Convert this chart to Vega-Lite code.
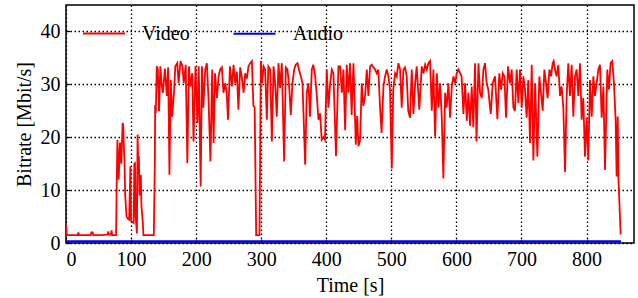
{
  "$schema": "https://vega.github.io/schema/vega-lite/v6.json",
  "autosize": {"type": "none"},
  "padding": {"left": 66, "top": 5, "right": 4, "bottom": 55},
  "width": 568,
  "height": 238,
  "config": {
    "font": "Liberation Serif",
    "view": {"stroke": "black", "strokeWidth": 1.5},
    "style": {"guide-label": {"font": "Liberation Serif", "fontSize": 20, "fill": "black"}, "guide-title": {"font": "Liberation Serif", "fontSize": 20, "fill": "black", "fontWeight": "normal"}},
    "axis": {
      "labelFont": "Liberation Serif", "titleFont": "Liberation Serif",
      "labelFontSize": 20, "titleFontSize": 20, "titleFontWeight": "normal",
      "labelColor": "black", "titleColor": "black",
      "grid": true, "gridColor": "black", "gridDash": [1.5, 2.5], "gridWidth": 1.3, "gridOpacity": 1,
      "domain": false, "tickColor": "black", "tickSize": -4, "tickWidth": 1.2, "labelPadding": 10
    },
    "legend": {"labelFont": "Liberation Serif", "labelFontSize": 20, "labelColor": "black"}
  },
  "data": {"values": [
    {"t":0,"v":3.5,"s":"Video"},{"t":1,"v":1.5,"s":"Video"},{"t":10,"v":1.5,"s":"Video"},{"t":18,"v":1.5,"s":"Video"},{"t":19,"v":2.0,"s":"Video"},{"t":20,"v":1.5,"s":"Video"},{"t":38,"v":1.5,"s":"Video"},{"t":39,"v":2.0,"s":"Video"},{"t":41,"v":2.0,"s":"Video"},{"t":42,"v":1.5,"s":"Video"},{"t":55,"v":1.5,"s":"Video"},{"t":64,"v":1.6,"s":"Video"},{"t":65,"v":2.2,"s":"Video"},{"t":66,"v":1.6,"s":"Video"},{"t":69,"v":1.6,"s":"Video"},{"t":70,"v":2.4,"s":"Video"},{"t":71,"v":1.5,"s":"Video"},{"t":77,"v":1.5,"s":"Video"},
    {"t":78,"v":12,"s":"Video"},{"t":79,"v":19.5,"s":"Video"},{"t":80,"v":16,"s":"Video"},{"t":81,"v":12,"s":"Video"},{"t":83,"v":19,"s":"Video"},{"t":85,"v":15,"s":"Video"},{"t":87,"v":22.7,"s":"Video"},{"t":88,"v":22.3,"s":"Video"},{"t":89,"v":18,"s":"Video"},{"t":90,"v":15,"s":"Video"},{"t":91,"v":9,"s":"Video"},{"t":93,"v":5,"s":"Video"},{"t":95,"v":4.6,"s":"Video"},{"t":97,"v":4.4,"s":"Video"},{"t":99,"v":14.5,"s":"Video"},{"t":100,"v":4.2,"s":"Video"},{"t":102,"v":4,"s":"Video"},{"t":104,"v":3.8,"s":"Video"},{"t":105,"v":15,"s":"Video"},{"t":106,"v":15.1,"s":"Video"},{"t":107,"v":5,"s":"Video"},{"t":108,"v":3.5,"s":"Video"},{"t":109,"v":1.8,"s":"Video"},{"t":110,"v":20.5,"s":"Video"},{"t":111,"v":15,"s":"Video"},{"t":112,"v":16.4,"s":"Video"},{"t":113,"v":9,"s":"Video"},{"t":115,"v":12.9,"s":"Video"},{"t":116,"v":6.9,"s":"Video"},{"t":118,"v":4,"s":"Video"},{"t":119,"v":1.5,"s":"Video"},{"t":135,"v":1.5,"s":"Video"},
    {"t":136.5,"v":15,"s":"Video"},{"t":137,"v":26.1,"s":"Video"},{"t":138,"v":24.5,"s":"Video"},{"t":139.5,"v":33.4,"s":"Video"},{"t":141,"v":33,"s":"Video"},{"t":143,"v":24.9,"s":"Video"},{"t":145,"v":33.4,"s":"Video"},{"t":147,"v":30,"s":"Video"},{"t":149,"v":28.4,"s":"Video"},{"t":152,"v":33,"s":"Video"},{"t":155,"v":27.8,"s":"Video"},{"t":157,"v":33.2,"s":"Video"},{"t":159,"v":12.9,"s":"Video"},{"t":161,"v":30.8,"s":"Video"},{"t":163,"v":23.9,"s":"Video"},{"t":166,"v":28.4,"s":"Video"},{"t":168,"v":33.4,"s":"Video"},{"t":171,"v":34,"s":"Video"},{"t":173,"v":30.2,"s":"Video"},{"t":176,"v":34.4,"s":"Video"},{"t":179,"v":33.4,"s":"Video"},{"t":181,"v":30.2,"s":"Video"},{"t":184,"v":33.7,"s":"Video"},{"t":186.5,"v":15.1,"s":"Video"},{"t":189,"v":33.4,"s":"Video"},{"t":191,"v":29.6,"s":"Video"},{"t":194,"v":32.1,"s":"Video"},{"t":196,"v":19.2,"s":"Video"},{"t":199,"v":33.4,"s":"Video"},{"t":202,"v":22.7,"s":"Video"},{"t":204,"v":33.4,"s":"Video"},{"t":207,"v":10.7,"s":"Video"},{"t":209,"v":33.4,"s":"Video"},{"t":211,"v":25.6,"s":"Video"},{"t":214,"v":32.8,"s":"Video"},{"t":216.5,"v":34,"s":"Video"},{"t":219,"v":27.4,"s":"Video"},{"t":222,"v":15.4,"s":"Video"},{"t":224.7,"v":32.8,"s":"Video"},{"t":226.8,"v":18.9,"s":"Video"},{"t":229,"v":32.1,"s":"Video"},{"t":232,"v":27.4,"s":"Video"},{"t":234.5,"v":31.5,"s":"Video"},{"t":237,"v":32.8,"s":"Video"},{"t":239.6,"v":33.2,"s":"Video"},{"t":242,"v":28.4,"s":"Video"},{"t":244.7,"v":30.2,"s":"Video"},{"t":247,"v":28.4,"s":"Video"},{"t":249,"v":23.3,"s":"Video"},{"t":252,"v":33.4,"s":"Video"},{"t":255,"v":29.6,"s":"Video"},{"t":257.5,"v":33.7,"s":"Video"},{"t":260,"v":30.2,"s":"Video"},{"t":262.6,"v":32.4,"s":"Video"},{"t":265,"v":25.2,"s":"Video"},{"t":267.7,"v":33.2,"s":"Video"},{"t":270,"v":31.5,"s":"Video"},{"t":273,"v":28.4,"s":"Video"},{"t":275.4,"v":32.1,"s":"Video"},{"t":278,"v":31.1,"s":"Video"},{"t":280.5,"v":33.4,"s":"Video"},{"t":283,"v":34,"s":"Video"},{"t":285.7,"v":34.4,"s":"Video"},{"t":288,"v":26,"s":"Video"},{"t":290,"v":25.6,"s":"Video"},{"t":292.3,"v":1.5,"s":"Video"},{"t":297.4,"v":1.5,"s":"Video"},
    {"t":299.5,"v":34.4,"s":"Video"},{"t":301.5,"v":30.2,"s":"Video"},{"t":303.6,"v":33.4,"s":"Video"},{"t":306,"v":32.8,"s":"Video"},{"t":308.7,"v":23.3,"s":"Video"},{"t":311,"v":33.4,"s":"Video"},{"t":313.8,"v":32.8,"s":"Video"},{"t":316.4,"v":19.2,"s":"Video"},{"t":319,"v":33.4,"s":"Video"},{"t":321.5,"v":30.2,"s":"Video"},{"t":324,"v":23.9,"s":"Video"},{"t":326.6,"v":34,"s":"Video"},{"t":329,"v":29.3,"s":"Video"},{"t":331.7,"v":34,"s":"Video"},{"t":335.3,"v":15.4,"s":"Video"},{"t":337.9,"v":33.2,"s":"Video"},{"t":340.4,"v":32.8,"s":"Video"},{"t":343,"v":29.6,"s":"Video"},{"t":345.5,"v":24.2,"s":"Video"},{"t":348,"v":30.2,"s":"Video"},{"t":350.7,"v":32.8,"s":"Video"},{"t":353,"v":33.7,"s":"Video"},{"t":355.8,"v":34,"s":"Video"},{"t":358,"v":32.8,"s":"Video"},{"t":361,"v":31.5,"s":"Video"},{"t":363.5,"v":30.2,"s":"Video"},{"t":367.6,"v":14.8,"s":"Video"},{"t":370,"v":28.4,"s":"Video"},{"t":372.7,"v":30.2,"s":"Video"},{"t":375,"v":23.9,"s":"Video"},{"t":377.8,"v":32.8,"s":"Video"},{"t":380,"v":33.7,"s":"Video"},{"t":383,"v":31.5,"s":"Video"},{"t":385.5,"v":27.8,"s":"Video"},{"t":388,"v":23.3,"s":"Video"},{"t":390.6,"v":24.5,"s":"Video"},{"t":393,"v":19.5,"s":"Video"},{"t":395.7,"v":20,"s":"Video"},{"t":398,"v":19.5,"s":"Video"},{"t":400.8,"v":32.8,"s":"Video"},{"t":403.4,"v":25.6,"s":"Video"},{"t":406,"v":30.2,"s":"Video"},{"t":408.5,"v":32.8,"s":"Video"},{"t":411,"v":32.1,"s":"Video"},{"t":415,"v":16.4,"s":"Video"},{"t":418.7,"v":33.4,"s":"Video"},{"t":421.3,"v":33.4,"s":"Video"},{"t":424,"v":28.4,"s":"Video"},{"t":426.4,"v":32.8,"s":"Video"},{"t":429,"v":21.3,"s":"Video"},{"t":431.5,"v":33.7,"s":"Video"},{"t":434,"v":28.4,"s":"Video"},{"t":436.7,"v":34,"s":"Video"},{"t":439,"v":24.2,"s":"Video"},{"t":441.8,"v":34,"s":"Video"},{"t":445.4,"v":18.6,"s":"Video"},{"t":447.5,"v":24,"s":"Video"},{"t":449.5,"v":18.3,"s":"Video"},{"t":452,"v":19.5,"s":"Video"},{"t":454.6,"v":30.2,"s":"Video"},{"t":457,"v":25.9,"s":"Video"},{"t":459.7,"v":27.8,"s":"Video"},{"t":462.3,"v":32.8,"s":"Video"},{"t":464.8,"v":27.8,"s":"Video"},{"t":467.4,"v":33.4,"s":"Video"},{"t":470,"v":33.7,"s":"Video"},{"t":472.5,"v":33.2,"s":"Video"},{"t":475,"v":32.8,"s":"Video"},{"t":477.6,"v":32.1,"s":"Video"},{"t":480,"v":32.8,"s":"Video"},{"t":482.7,"v":25.6,"s":"Video"},{"t":485,"v":20.8,"s":"Video"},{"t":487.9,"v":29.6,"s":"Video"},{"t":490.4,"v":31.5,"s":"Video"},{"t":493,"v":32.8,"s":"Video"},{"t":495.5,"v":31.5,"s":"Video"},{"t":498,"v":29,"s":"Video"},{"t":500.7,"v":14.1,"s":"Video"},{"t":503,"v":29,"s":"Video"},{"t":505.8,"v":32.1,"s":"Video"},{"t":508.3,"v":31.5,"s":"Video"},{"t":510.9,"v":34,"s":"Video"},{"t":513.5,"v":32.8,"s":"Video"},{"t":516,"v":25.6,"s":"Video"},{"t":518.6,"v":32.8,"s":"Video"},{"t":521,"v":33.2,"s":"Video"},{"t":523.7,"v":31.5,"s":"Video"},{"t":526,"v":25,"s":"Video"},{"t":528.8,"v":23.7,"s":"Video"},{"t":531.4,"v":32.8,"s":"Video"},{"t":534,"v":24.4,"s":"Video"},{"t":536.6,"v":30.2,"s":"Video"},{"t":539,"v":33.4,"s":"Video"},{"t":543,"v":25.2,"s":"Video"},{"t":546.8,"v":33.4,"s":"Video"},{"t":549.4,"v":32.1,"s":"Video"},{"t":552,"v":33.7,"s":"Video"},{"t":554.5,"v":32.8,"s":"Video"},{"t":557,"v":34,"s":"Video"},{"t":559.6,"v":34.4,"s":"Video"},{"t":562.2,"v":25,"s":"Video"},{"t":564.7,"v":32.8,"s":"Video"},{"t":567.3,"v":20.1,"s":"Video"},{"t":570,"v":32.1,"s":"Video"},{"t":572.4,"v":25.6,"s":"Video"},{"t":575,"v":30.2,"s":"Video"},{"t":577.5,"v":23.9,"s":"Video"},{"t":580,"v":12.2,"s":"Video"},{"t":582.7,"v":28.4,"s":"Video"},{"t":585,"v":25.6,"s":"Video"},{"t":587.8,"v":30.2,"s":"Video"},{"t":590.3,"v":23.7,"s":"Video"},{"t":593,"v":29.6,"s":"Video"},{"t":595.5,"v":31.5,"s":"Video"},{"t":598,"v":30.2,"s":"Video"},{"t":600.6,"v":32.1,"s":"Video"},{"t":603,"v":32.8,"s":"Video"},{"t":605.7,"v":32.1,"s":"Video"},{"t":608,"v":31.5,"s":"Video"},{"t":610.8,"v":24.4,"s":"Video"},{"t":613.4,"v":30.2,"s":"Video"},{"t":616,"v":23.1,"s":"Video"},{"t":618.5,"v":28.4,"s":"Video"},{"t":621,"v":22.2,"s":"Video"},{"t":623.6,"v":29.6,"s":"Video"},{"t":626,"v":21.9,"s":"Video"},{"t":628.7,"v":34,"s":"Video"},{"t":631,"v":19.2,"s":"Video"},{"t":633.9,"v":34,"s":"Video"},{"t":636.4,"v":28.4,"s":"Video"},{"t":639,"v":27.4,"s":"Video"},{"t":641.5,"v":32.8,"s":"Video"},{"t":644,"v":34,"s":"Video"},{"t":646.6,"v":30.2,"s":"Video"},{"t":649,"v":29,"s":"Video"},{"t":652.8,"v":24.4,"s":"Video"},{"t":655.9,"v":30.2,"s":"Video"},{"t":659.4,"v":31.5,"s":"Video"},{"t":663,"v":23.4,"s":"Video"},{"t":666,"v":32.1,"s":"Video"},{"t":668.7,"v":29,"s":"Video"},{"t":671.2,"v":32.1,"s":"Video"},{"t":673.8,"v":31.5,"s":"Video"},{"t":676.3,"v":23.7,"s":"Video"},{"t":679.4,"v":33.4,"s":"Video"},{"t":682.5,"v":30.2,"s":"Video"},{"t":685,"v":32.8,"s":"Video"},{"t":687.6,"v":25.6,"s":"Video"},{"t":690,"v":25,"s":"Video"},{"t":692.7,"v":32.8,"s":"Video"},{"t":695.3,"v":26.5,"s":"Video"},{"t":697.8,"v":32.8,"s":"Video"},{"t":700.4,"v":25.6,"s":"Video"},{"t":703,"v":31.5,"s":"Video"},{"t":705.5,"v":29,"s":"Video"},{"t":708,"v":23.7,"s":"Video"},{"t":710.6,"v":30.8,"s":"Video"},{"t":713.2,"v":18.9,"s":"Video"},{"t":715.8,"v":33.7,"s":"Video"},{"t":718.3,"v":15.6,"s":"Video"},{"t":721,"v":30.2,"s":"Video"},{"t":724.5,"v":16.3,"s":"Video"},{"t":727.5,"v":31.5,"s":"Video"},{"t":730,"v":28.4,"s":"Video"},{"t":732.7,"v":25,"s":"Video"},{"t":735.2,"v":32.8,"s":"Video"},{"t":737.8,"v":30.2,"s":"Video"},{"t":740.3,"v":27.4,"s":"Video"},{"t":742.9,"v":32.8,"s":"Video"},{"t":745.5,"v":31.5,"s":"Video"},{"t":748,"v":34,"s":"Video"},{"t":749.5,"v":34.4,"s":"Video"},{"t":751.6,"v":32.8,"s":"Video"},{"t":754.1,"v":31.5,"s":"Video"},{"t":756.7,"v":33.7,"s":"Video"},{"t":759.3,"v":27.8,"s":"Video"},{"t":761.8,"v":29.6,"s":"Video"},{"t":764.4,"v":25.6,"s":"Video"},{"t":767,"v":13.4,"s":"Video"},{"t":769.5,"v":27.8,"s":"Video"},{"t":772,"v":34,"s":"Video"},{"t":774.6,"v":27.8,"s":"Video"},{"t":777.2,"v":33.7,"s":"Video"},{"t":779.7,"v":23.9,"s":"Video"},{"t":782.3,"v":31.5,"s":"Video"},{"t":784.9,"v":32.8,"s":"Video"},{"t":787.4,"v":27.8,"s":"Video"},{"t":790,"v":34,"s":"Video"},{"t":792.5,"v":23.3,"s":"Video"},{"t":795,"v":27.4,"s":"Video"},{"t":797.7,"v":16.3,"s":"Video"},{"t":800.2,"v":23.7,"s":"Video"},{"t":802.8,"v":15.6,"s":"Video"},{"t":805.3,"v":30.8,"s":"Video"},{"t":808,"v":23.9,"s":"Video"},{"t":810.5,"v":31.5,"s":"Video"},{"t":813,"v":27.8,"s":"Video"},{"t":815.6,"v":30.2,"s":"Video"},{"t":818.2,"v":32.8,"s":"Video"},{"t":820.7,"v":33.7,"s":"Video"},{"t":823.3,"v":23.7,"s":"Video"},{"t":826,"v":29.6,"s":"Video"},{"t":828.4,"v":13.8,"s":"Video"},{"t":832,"v":32.8,"s":"Video"},{"t":834.5,"v":29,"s":"Video"},{"t":837,"v":34,"s":"Video"},{"t":839.6,"v":34.4,"s":"Video"},{"t":842.2,"v":30.2,"s":"Video"},{"t":844.8,"v":23.1,"s":"Video"},{"t":846.3,"v":12.6,"s":"Video"},{"t":848,"v":23.9,"s":"Video"},{"t":849,"v":12.4,"s":"Video"},{"t":852.5,"v":1.6,"s":"Video"},
    {"t":0,"v":0.3,"s":"Audio"},{"t":200,"v":0.3,"s":"Audio"},{"t":400,"v":0.3,"s":"Audio"},{"t":600,"v":0.3,"s":"Audio"},{"t":853,"v":0.3,"s":"Audio"}
  ]},
  "mark": {"type": "line", "clip": true},
  "encoding": {
    "x": {"field": "t", "type": "quantitative", "title": "Time [s]",
          "scale": {"domain": [0, 873], "nice": false, "zero": false},
          "axis": {"values": [0,100,200,300,400,500,600,700,800], "titlePadding": 6, "labelFont": "Liberation Serif", "titleFont": "Liberation Serif"}},
    "y": {"field": "v", "type": "quantitative", "title": "Bitrate [Mbit/s]",
          "scale": {"domain": [0, 45], "nice": false},
          "axis": {"values": [0,10,20,30,40], "titlePadding": 6, "labelFont": "Liberation Serif", "titleFont": "Liberation Serif"}},
    "color": {"field": "s", "type": "nominal", "sort": ["Video","Audio"],
              "scale": {"domain": ["Video","Audio"], "range": ["#ff0000","#0000ff"]},
              "legend": {"title": null, "orient": "none", "legendX": 16, "legendY": 6, "direction": "horizontal",
                         "symbolType": "stroke", "symbolSize": 1764, "symbolStrokeWidth": 2, "labelOffset": 16,
                         "columnPadding": 39, "padding": 0, "labelFont": "Liberation Serif", "labelFontSize": 20}},
    "strokeWidth": {"field": "s", "type": "nominal", "scale": {"domain": ["Video","Audio"], "range": [1.8, 2.2]}, "legend": null},
    "order": {"field": "t", "type": "quantitative"}
  }
}
